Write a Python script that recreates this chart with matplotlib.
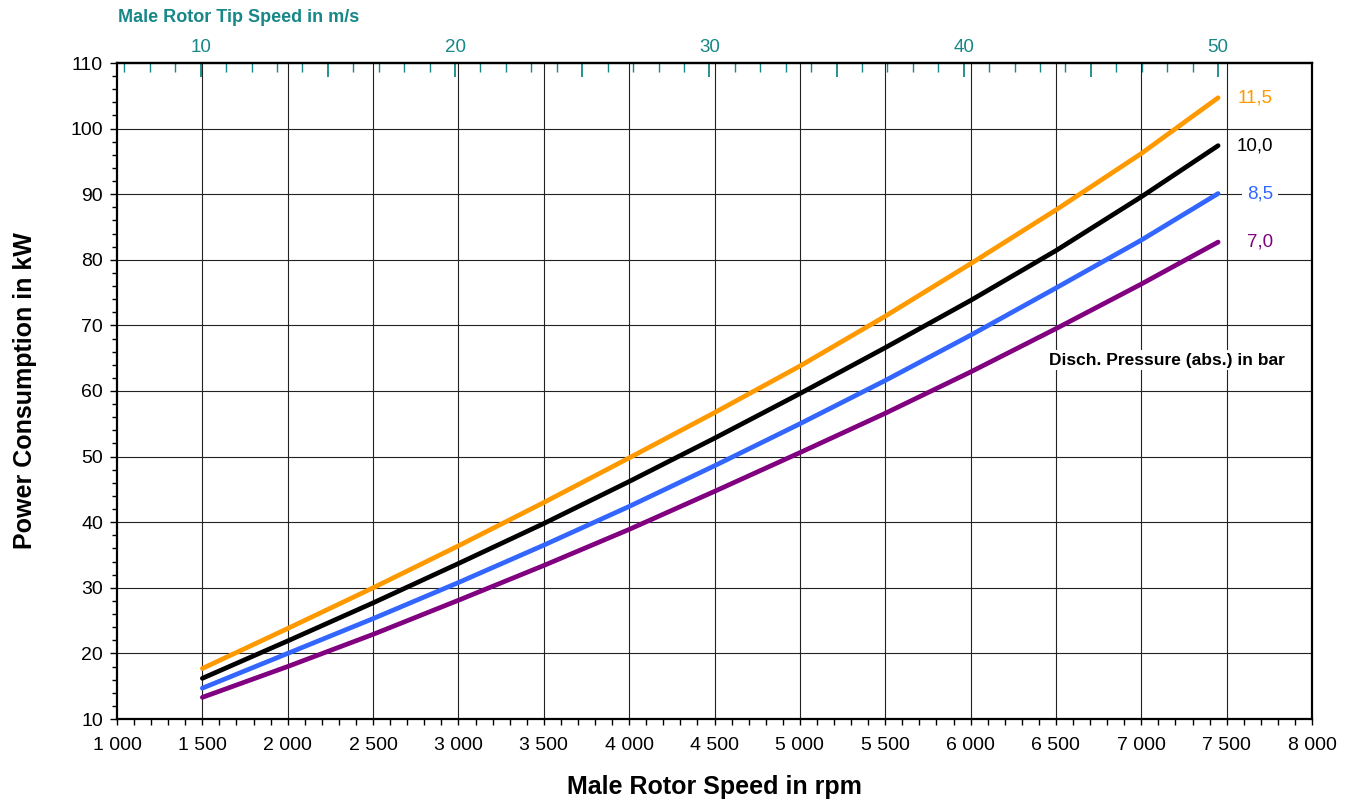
import matplotlib
matplotlib.use("Agg")
import matplotlib.pyplot as plt
from matplotlib.ticker import FixedLocator, FuncFormatter, MultipleLocator

plt.rcParams['font.family'] = ['Liberation Sans', 'DejaVu Sans']

# ---- data ----
rpm = [1500, 2000, 2500, 3000, 3500, 4000, 4500, 5000, 5500, 6000, 6500, 7000, 7450]
p_11_5 = [17.7, 23.8, 30.0, 36.4, 43.0, 49.8, 56.7, 63.8, 71.4, 79.4, 87.6, 96.2, 104.7]
p_10_0 = [16.2, 21.9, 27.7, 33.7, 39.8, 46.2, 52.8, 59.6, 66.6, 73.8, 81.4, 89.6, 97.4]
p_8_5 = [14.7, 20.0, 25.3, 30.8, 36.5, 42.4, 48.6, 55.0, 61.6, 68.5, 75.7, 83.0, 90.1]
p_7_0 = [13.3, 18.0, 22.9, 28.1, 33.4, 38.9, 44.7, 50.6, 56.6, 62.9, 69.5, 76.3, 82.7]
series_labels = ["11,5", "10,0", "8,5", "7,0"]
series_colors = ["#FF9900", "#000000", "#3366FF", "#800080"]
rpm_per_tip = 149.0  # rpm per m/s of tip speed
tip_major = [10, 20, 30, 40, 50]

teal = "#178787"

fig = plt.figure(figsize=(13.54, 8.01), dpi=100)
ax = fig.add_axes([117/1354, 1-719/801, (1312-117)/1354, (719-63)/801])

ax.set_xlim(1000, 8000)
ax.set_ylim(10, 110)

# grid
for xv in range(1500, 8000, 500):
    ax.axvline(xv, color='#222222', lw=0.8, zorder=1)
for yv in range(20, 110, 10):
    ax.axhline(yv, color='#222222', lw=0.8, zorder=1)

data = [p_11_5, p_10_0, p_8_5, p_7_0]
for vals, lab, col in zip(data, series_labels, series_colors):
    ax.plot(rpm, vals, color=col, lw=3.4, solid_capstyle='round', solid_joinstyle='round', zorder=3)
    ax.annotate(lab, xy=(rpm[-1], vals[-1]), xytext=(55, 0), textcoords='offset pixels',
                ha='right', va='center', fontsize=13.5, color=col, zorder=5,
                bbox=dict(boxstyle='square,pad=0.25', fc='white', ec='none'))

ax.text(7150, 64.7, "Disch. Pressure (abs.) in bar", ha='center', va='center',
        fontsize=12.5, fontweight='bold', color='black', zorder=5,
        bbox=dict(boxstyle='square,pad=0.15', fc='white', ec='none'))

# bottom axis
ax.xaxis.set_major_locator(MultipleLocator(500))
ax.xaxis.set_minor_locator(MultipleLocator(100))
ax.xaxis.set_major_formatter(FuncFormatter(lambda v, p: f"{v:,.0f}".replace(',', ' ')))
ax.tick_params(axis='x', which='both', direction='out', length=4, width=1.0, labelsize=14, pad=9)
ax.yaxis.set_major_locator(MultipleLocator(10))
ax.yaxis.set_minor_locator(MultipleLocator(2))
ax.tick_params(axis='y', which='major', direction='out', length=5, width=1.0, labelsize=14, pad=5)
ax.tick_params(axis='y', which='minor', direction='out', length=3.5, width=1.0)
for s in ax.spines.values():
    s.set_linewidth(1.6)
    s.set_color('black')

ax.set_xlabel("Male Rotor Speed in rpm", fontsize=18, fontweight='bold', labelpad=15)
ax.set_ylabel("Power Consumption in kW", fontsize=18, fontweight='bold', labelpad=24)

# top axis: tip speed
sec = ax.secondary_xaxis('top', functions=(lambda r: r / rpm_per_tip, lambda t: t * rpm_per_tip))
sec.xaxis.set_major_locator(FixedLocator(list(range(10, 51, 5))))
sec.xaxis.set_minor_locator(FixedLocator([t for t in range(7, 51) if t % 5 != 0]))
sec.xaxis.set_major_formatter(FuncFormatter(lambda v, p: f"{int(round(v))}" if int(round(v)) in tip_major else ""))
sec.tick_params(axis='x', which='major', direction='in', length=10, width=1.3, color=teal,
                labelcolor=teal, labelsize=13.5, pad=5)
sec.tick_params(axis='x', which='minor', direction='in', length=6.5, width=1.0, color=teal)
sec.spines['top'].set_linewidth(1.6)

fig.text(118/1354, 1-18/801, "Male Rotor Tip Speed in m/s", ha='left', va='center',
         fontsize=13, fontweight='bold', color=teal)

fig.savefig("out.png", dpi=100)
